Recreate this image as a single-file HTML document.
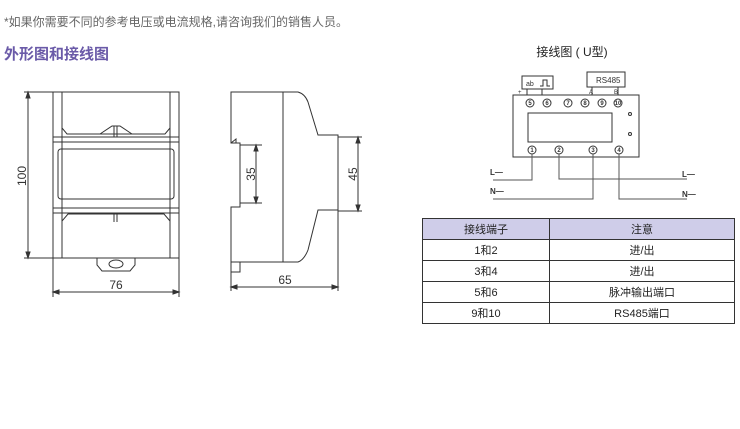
<!DOCTYPE html>
<html><head><meta charset="utf-8"><style>
body{margin:0;background:#fff;width:740px;height:429px;overflow:hidden;font-family:"Liberation Sans","Noto Sans CJK SC",sans-serif}
.t1{position:absolute;left:4px;top:13px;font-size:12px;color:#666}
.t2{position:absolute;left:4px;top:43px;font-size:15px;font-weight:bold;color:#6a5aa8}
table{position:absolute;left:422px;top:218px;width:313px;border-collapse:collapse;font-size:11px;color:#222}
td{border:1px solid #333;height:20px;padding:0;text-align:center}
tr:first-child td{background:#cfcde9}
</style></head><body>
<div class="t1">*如果你需要不同的参考电压或电流规格,请咨询我们的销售人员。</div>
<div class="t2">外形图和接线图</div>
<svg width="740" height="429" style="position:absolute;left:0;top:0" fill="none" stroke="#333" stroke-width="1" font-family="Liberation Sans,sans-serif">
<!-- front view -->
<rect x="53" y="92" width="126" height="166"/>
<line x1="62" y1="92" x2="62" y2="258"/><line x1="170" y1="92" x2="170" y2="258"/>
<line x1="53" y1="137" x2="179" y2="137"/><line x1="53" y1="142" x2="179" y2="142"/>
<line x1="53" y1="208" x2="179" y2="208"/><line x1="53" y1="213" x2="179" y2="213"/>
<path d="M62 92 V128 L67 134 H165 L170 128"/>
<path d="M62 258 V221 L68 214 H164 L170 221"/>
<rect x="58" y="149" width="116" height="50" rx="3"/>
<path d="M100 134 L112 126 H120 L132 134"/><line x1="114" y1="126" x2="114" y2="137"/><line x1="117" y1="126" x2="117" y2="137"/>
<line x1="114" y1="213" x2="114" y2="222"/><line x1="117" y1="213" x2="117" y2="222"/>
<path d="M97 258 V265 L102 271 H130 L135 265 V258"/><ellipse cx="116" cy="264" rx="7" ry="4"/>
<line x1="28" y1="92" x2="28" y2="258"/><line x1="24" y1="92" x2="53" y2="92"/><line x1="24" y1="258" x2="53" y2="258"/>
<path d="M28 92 l-2 6 h4z M28 258 l-2 -6 h4z" fill="#333"/>
<text x="26" y="176" font-size="12" fill="#333" stroke="none" transform="rotate(-90 26 176)" text-anchor="middle">100</text>
<line x1="53" y1="258" x2="53" y2="297"/><line x1="179" y1="258" x2="179" y2="297"/>
<line x1="53" y1="292" x2="179" y2="292"/><path d="M53 292 l6 -2 v4z M179 292 l-6 -2 v4z" fill="#333"/>
<text x="116" y="289" font-size="12" fill="#333" stroke="none" text-anchor="middle">76</text>
<!-- side view -->
<path d="M231 92 H298 Q305 94 308 102 L318 135 H338 V210 H318 L308 250 Q304 260 298 262 H231 V207 H240 V143 H231 Z"/>
<line x1="283" y1="92" x2="283" y2="262"/>
<path d="M231 262 V272 H240 V262"/>
<path d="M231 143 l5 -4 v4"/>
<line x1="240" y1="145" x2="262" y2="145"/><line x1="240" y1="203" x2="262" y2="203"/>
<line x1="256" y1="145" x2="256" y2="203"/><path d="M256 145 l-2 6 h4z M256 203 l-2 -6 h4z" fill="#333"/>
<text x="255" y="174" font-size="12" fill="#333" stroke="none" transform="rotate(-90 255 174)" text-anchor="middle">35</text>
<line x1="338" y1="137" x2="362" y2="137"/><line x1="338" y1="211" x2="362" y2="211"/>
<line x1="358" y1="137" x2="358" y2="211"/><path d="M358 137 l-2 6 h4z M358 211 l-2 -6 h4z" fill="#333"/>
<text x="357" y="174" font-size="12" fill="#333" stroke="none" transform="rotate(-90 357 174)" text-anchor="middle">45</text>
<line x1="231" y1="272" x2="231" y2="291"/><line x1="338" y1="210" x2="338" y2="291"/>
<line x1="231" y1="287" x2="338" y2="287"/><path d="M231 287 l6 -2 v4z M338 287 l-6 -2 v4z" fill="#333"/>
<text x="285" y="284" font-size="12" fill="#333" stroke="none" text-anchor="middle">65</text>
<!-- wiring -->
<text x="572" y="56" font-size="12" fill="#222" stroke="none" text-anchor="middle" font-family="Liberation Sans,Noto Sans CJK SC,sans-serif">接线图 ( U型)</text>
<rect x="513" y="95" width="126" height="62"/>
<rect x="522" y="76" width="31" height="13"/><text x="526" y="86" font-size="7" fill="#333" stroke="none">ab</text><path d="M540 86 h3 v-6 h4 v6 h3"/>
<path d="M527 89 v6 M542 89 v6"/><text x="518" y="94" font-size="6" fill="#333" stroke="none">+</text>
<rect x="587" y="72" width="38" height="15"/><text x="596" y="83" font-size="8" fill="#333" stroke="none">RS485</text>
<path d="M592 87 v8 M618 87 v8"/><text x="589" y="94" font-size="6" fill="#333" stroke="none">A</text><text x="614" y="94" font-size="6" fill="#333" stroke="none">B</text>
<g fill="none">
<circle cx="530" cy="103" r="4"/><circle cx="547" cy="103" r="4"/><circle cx="568" cy="103" r="4"/><circle cx="585" cy="103" r="4"/><circle cx="602" cy="103" r="4"/><circle cx="618" cy="103" r="4"/>
<circle cx="532" cy="150" r="4"/><circle cx="559" cy="150" r="4"/><circle cx="593" cy="150" r="4"/><circle cx="619" cy="150" r="4"/>
</g>
<g font-size="6" fill="#333" stroke="none" text-anchor="middle" font-weight="bold">
<text x="530" y="105">5</text><text x="547" y="105">6</text><text x="568" y="105">7</text><text x="585" y="105">8</text><text x="602" y="105">9</text><text x="618" y="105">10</text>
<text x="532" y="152">1</text><text x="559" y="152">2</text><text x="593" y="152">3</text><text x="619" y="152">4</text>
</g>
<rect x="528" y="113" width="84" height="29"/>
<circle cx="630" cy="114" r="1.5"/><circle cx="630" cy="134" r="1.5"/>
<path d="M532 154 V180 H493 M559 154 V179 H687 M593 154 V199 H493 M619 154 V199 H687" stroke="#555"/>
<g font-size="8" fill="#333" stroke="none" font-weight="bold"><text x="490" y="175">L—</text><text x="490" y="194">N—</text><text x="682" y="177">L—</text><text x="682" y="197">N—</text></g>
</svg>
<table>
<tr><td style="width:126px">接线端子</td><td>注意</td></tr>
<tr><td>1和2</td><td>进/出</td></tr>
<tr><td>3和4</td><td>进/出</td></tr>
<tr><td>5和6</td><td>脉冲输出端口</td></tr>
<tr><td>9和10</td><td>RS485端口</td></tr>
</table>
</body></html>
